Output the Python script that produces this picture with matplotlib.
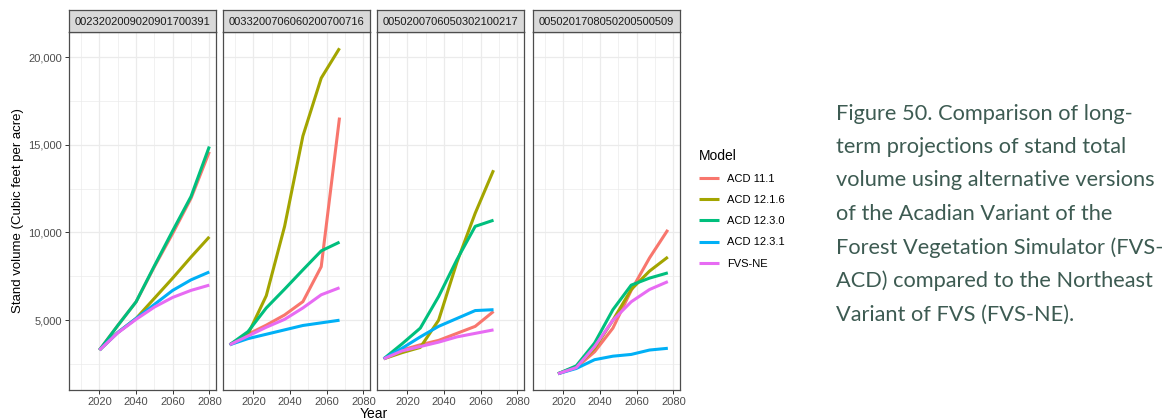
import matplotlib
matplotlib.use("Agg")
import matplotlib.pyplot as plt
from matplotlib.ticker import FuncFormatter, MultipleLocator

# ---- data ---------------------------------------------------------------
models = ["ACD 11.1", "ACD 12.1.6", "ACD 12.3.0", "ACD 12.3.1", "FVS-NE"]
model_colors = ["#F8766D", "#A3A500", "#00BF7D", "#00B0F6", "#E76BF3"]

stand_ids = ["0023202009020901700391", "0033200706060200700716",
             "0050200706050302100217", "0050201708050200500509"]

years_a = [2020, 2030, 2040, 2050, 2060, 2070, 2080]
vol_a = {
    "ACD 11.1":   [3300, 4700, 6050, 8050, 9950, 11950, 14600],
    "ACD 12.1.6": [3300, 4300, 5100, 6250, 7400, 8600, 9750],
    "ACD 12.3.0": [3300, 4700, 6050, 8100, 10100, 12050, 14900],
    "ACD 12.3.1": [3300, 4300, 5100, 5900, 6700, 7300, 7750],
    "FVS-NE":     [3300, 4280, 5050, 5750, 6300, 6700, 7000],
}

years_b = [2007, 2017, 2027, 2037, 2047, 2057, 2067]
vol_b = {
    "ACD 11.1":   [3600, 4200, 4720, 5300, 6060, 8050, 16550],
    "ACD 12.1.6": [3600, 4200, 6400, 10350, 15500, 18800, 20500],
    "ACD 12.3.0": [3600, 4350, 5700, 6770, 7870, 8950, 9450],
    "ACD 12.3.1": [3600, 3950, 4200, 4450, 4700, 4850, 5000],
    "FVS-NE":     [3600, 4100, 4600, 5050, 5700, 6450, 6850],
}

years_c = [2007, 2017, 2027, 2037, 2047, 2057, 2067]
vol_c = {
    "ACD 11.1":   [2800, 3300, 3600, 3850, 4250, 4650, 5500],
    "ACD 12.1.6": [2800, 3150, 3450, 5000, 8300, 11100, 13550],
    "ACD 12.3.0": [2800, 3650, 4550, 6350, 8450, 10350, 10700],
    "ACD 12.3.1": [2800, 3400, 4050, 4650, 5100, 5550, 5600],
    "FVS-NE":     [2800, 3250, 3500, 3750, 4050, 4250, 4450],
}

years_d = [2017, 2027, 2037, 2047, 2057, 2067, 2077]
vol_d = {
    "ACD 11.1":   [1950, 2300, 3200, 4550, 6700, 8550, 10150],
    "ACD 12.1.6": [1950, 2350, 3400, 5000, 6750, 7800, 8600],
    "ACD 12.3.0": [1950, 2400, 3700, 5600, 7000, 7400, 7700],
    "ACD 12.3.1": [1950, 2250, 2750, 2950, 3050, 3300, 3400],
    "FVS-NE":     [1950, 2300, 3500, 5000, 6050, 6750, 7200],
}

x_ticks = [2020, 2040, 2060, 2080]
y_ticks = [5000, 10000, 15000, 20000]

caption_lines = [
    "Figure 50. Comparison of long-",
    "term projections of stand total",
    "volume using alternative versions",
    "of the Acadian Variant of the",
    "Forest Vegetation Simulator (FVS-",
    "ACD) compared to the Northeast",
    "Variant of FVS (FVS-NE).",
]

panels = [(years_a, vol_a), (years_b, vol_b), (years_c, vol_c), (years_d, vol_d)]

# ---- figure -------------------------------------------------------------
W, H = 1170, 420
fig = plt.figure(figsize=(W / 100, H / 100), dpi=100)
fig.patch.set_facecolor("white")

plt.rcParams["font.family"] = ["Liberation Sans", "DejaVu Sans"]

# shared scales (5 % expansion as ggplot)
all_years = [y for ys, _ in panels for y in ys]
all_vals = [v for _, d in panels for s in d.values() for v in s]
xr = max(all_years) - min(all_years)
yr = max(all_vals) - min(all_vals)
xlim = (min(all_years) - 0.05 * xr, max(all_years) + 0.05 * xr)
ylim = (min(all_vals) - 0.05 * yr, max(all_vals) + 0.05 * yr)

panel_left = [69, 223, 377, 533]
panel_w = 147
panel_top, panel_bot = 32, 390
strip_top = 10
border_col = "#4d4d4d"
grid_col = "#ebebeb"

handles = []
for i, ((yrs, vols), left) in enumerate(zip(panels, panel_left)):
    ax = fig.add_axes([left / W, (H - panel_bot) / H, panel_w / W,
                       (panel_bot - panel_top) / H])
    ax.set_facecolor("white")
    ax.set_xlim(xlim)
    ax.set_ylim(ylim)
    ax.set_xticks(x_ticks)
    ax.set_yticks(y_ticks)
    ax.xaxis.set_minor_locator(MultipleLocator(20, offset=10))
    ax.yaxis.set_minor_locator(MultipleLocator(5000, offset=2500))
    ax.grid(which="major", color=grid_col, lw=0.9)
    ax.grid(which="minor", color=grid_col, lw=0.5)
    ax.set_axisbelow(True)
    ax.tick_params(which="major", length=3, width=0.7, color="#333333",
                   labelsize=8, labelcolor="#4d4d4d", pad=2)
    ax.tick_params(which="minor", length=0)
    ax.yaxis.set_major_formatter(FuncFormatter(lambda v, p: f"{int(v):,}"))
    if i > 0:
        ax.tick_params(axis="y", which="major", length=0, labelleft=False)
    for sp in ax.spines.values():
        sp.set_color(border_col)
        sp.set_linewidth(0.9)

    for m, c in zip(models, model_colors):
        ln, = ax.plot(yrs, vols[m], color=c, lw=2.2, solid_capstyle="butt",
                      solid_joinstyle="round", label=m)
        if i == 0:
            handles.append(ln)

    # facet strip
    sax = fig.add_axes([left / W, (H - panel_top) / H, panel_w / W,
                        (panel_top - strip_top) / H])
    sax.set_facecolor("#d9d9d9")
    sax.set_xticks([])
    sax.set_yticks([])
    for sp in sax.spines.values():
        sp.set_color(border_col)
        sp.set_linewidth(0.9)
    sax.text(0.5, 0.45, stand_ids[i], ha="center", va="center",
             fontsize=8, color="#1a1a1a", transform=sax.transAxes)

# axis titles
fig.text(18 / W, 1 - 211 / H, "Stand volume (Cubic feet per acre)",
         rotation=90, ha="center", va="center", fontsize=9.5, color="black")
fig.text(374 / W, 1 - 414 / H, "Year", ha="center", va="center",
         fontsize=10, color="black")

# legend
leg = fig.legend(handles=handles, labels=models, title="Model",
                 loc="upper left", bbox_to_anchor=(689 / W, 1 - 139 / H),
                 frameon=False, fontsize=8, title_fontsize=10,
                 handlelength=1.8, handletextpad=0.75, labelspacing=1.0)
leg._legend_box.align = "left"

# caption
cap_color = "#3d5b52"
renderer = fig.canvas.get_renderer()
probe = fig.text(0, 0, caption_lines[4], fontsize=15, family="Lato")
w_probe = probe.get_window_extent(renderer).width
probe.remove()
cap_size = 15 * 327 / w_probe
for k, line in enumerate(caption_lines):
    fig.text(836 / W, 1 - (119.5 + 33.5 * k) / H, line, ha="left",
             va="baseline", fontsize=cap_size, family="Lato", color=cap_color)

fig.savefig("out.png", dpi=100)
